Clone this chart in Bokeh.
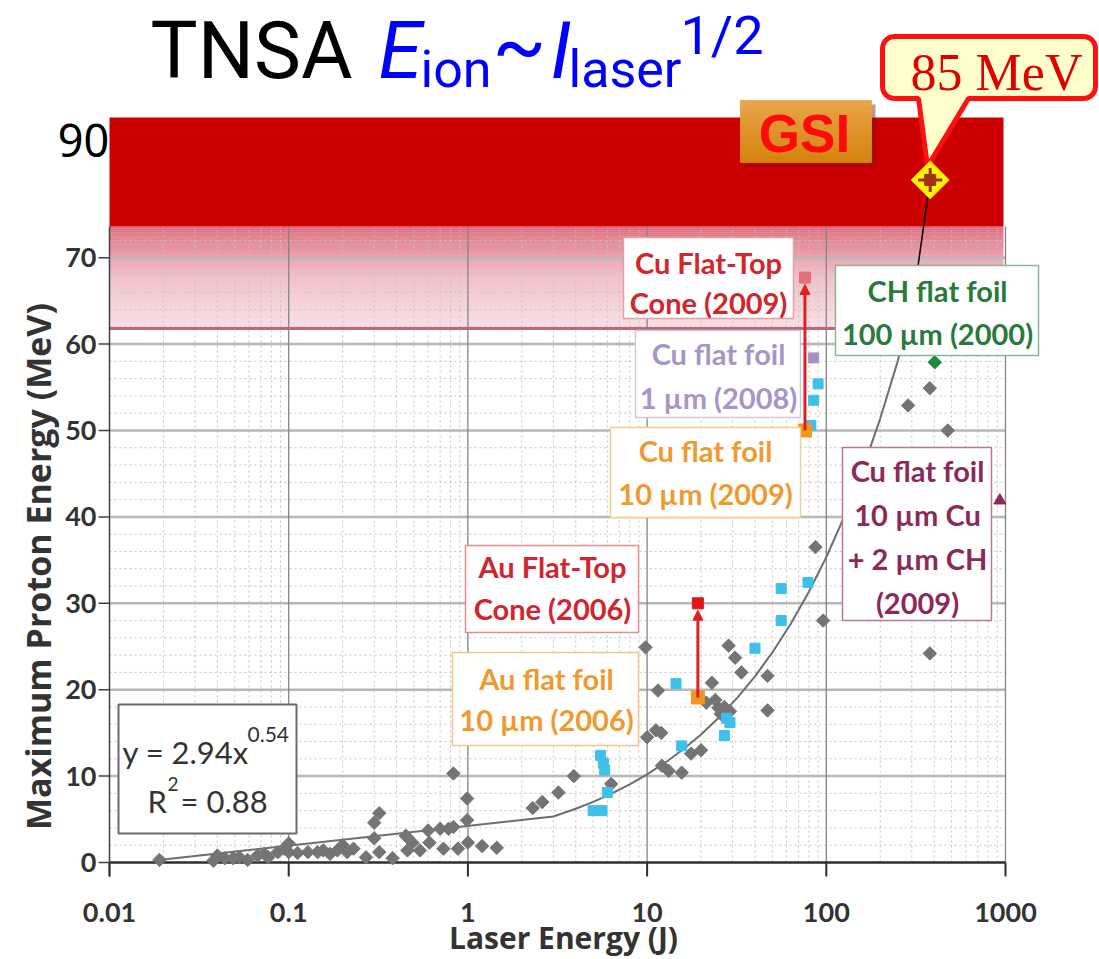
import numpy as np
from bokeh.plotting import figure
from bokeh.models import Range1d, Arrow, NormalHead
from bokeh.core.properties import value
from bokeh.embed import file_html
from bokeh.resources import INLINE

# ---------------- data ----------------
gray_energy = [0.019, 0.038, 0.040, 0.044, 0.049, 0.053, 0.059, 0.067, 0.073, 0.077, 0.087, 0.094,
               0.10, 0.10, 0.112, 0.128, 0.145, 0.156, 0.17, 0.187, 0.20, 0.212, 0.23, 0.27, 0.30,
               0.32, 0.30, 0.32, 0.38, 0.45, 0.46, 0.49, 0.54, 0.60, 0.61, 0.70, 0.73, 0.78, 0.83,
               0.83, 0.88, 0.99, 0.99, 1.0, 1.2, 1.45, 2.3, 2.6, 3.2, 3.9, 6.3, 9.8, 10.0, 11.2,
               12.0, 11.5, 12.1, 13.2, 15.6, 17.6, 20.0, 23.0, 21.4, 24.0, 25.0, 27.0, 25.8, 29.0,
               28.5, 31.0, 33.6, 47.0, 47.0, 87.0, 96.0, 286.0, 378.0, 476.0, 378.0]
gray_proton = [0.3, 0.2, 0.8, 0.5, 0.5, 0.6, 0.3, 0.8, 1.0, 0.6, 1.2, 1.6,
               2.2, 1.2, 1.1, 1.2, 1.2, 1.4, 1.0, 1.4, 2.0, 1.2, 1.6, 0.6, 4.6,
               5.7, 2.8, 1.2, 0.5, 3.1, 1.4, 2.3, 1.4, 3.7, 2.3, 3.9, 1.6, 3.9, 10.3,
               4.1, 1.6, 7.4, 4.9, 2.3, 1.9, 1.7, 6.3, 7.0, 8.1, 10.0, 9.1, 24.9, 14.5, 15.3,
               15.0, 19.9, 11.2, 10.6, 10.4, 12.6, 13.0, 20.8, 18.5, 18.8, 17.9, 18.0, 17.2, 17.5,
               25.1, 23.7, 22.0, 21.6, 17.6, 36.5, 28.0, 52.9, 54.9, 50.0, 24.2]
cyan_energy = [5.0, 5.6, 5.5, 5.7, 5.8, 6.0, 14.5, 15.6, 27.8, 29.0, 27.0, 40.0, 56.0, 56.0, 79.0,
               82.0, 85.0, 90.0]
cyan_proton = [6.0, 6.0, 12.4, 11.5, 10.7, 8.1, 20.7, 13.5, 16.7, 16.2, 14.7, 24.8, 28.0, 31.7, 32.4,
               50.6, 53.5, 55.4]
au_flat_energy = [19.2]
au_flat_proton = [19.1]
au_cone_energy = [19.2]
au_cone_proton = [30.0]
cu10_energy = [76.0]
cu10_proton = [50.0]
cu_cone_energy = [76.0]
cu_cone_proton = [67.7]
cu1_energy = [85.0]
cu1_proton = [58.4]
ch_energy = [403.0]
ch_proton = [57.9]
cuch_energy = [930.0]
cuch_proton = [41.9]
gsi_energy = [380.0]
gsi_proton = [79.0]
fit_a = 2.94
fit_b = 0.54
fit_energy = [0.02, 3, 4, 5, 6, 8, 10, 13, 16, 20, 25, 32, 40, 50, 63, 80, 100, 125, 160, 200, 250, 300]
x_ticks = [0.01, 0.1, 1, 10, 100, 1000]
y_ticks = [0, 10, 20, 30, 40, 50, 60, 70]

# ---------------- pixel helpers (reference image coordinates) ----------------
X0, DEC = 109.0, 179.2     # image x of 0.01 J, pixels per decade
Y0, PPU = 862.0, 8.64      # image y of 0 MeV, pixels per MeV


def px2x(px):
    return 10 ** ((px - X0) / DEC - 2)


def py2y(py):
    return (Y0 - py) / PPU


def x2px(x):
    return X0 + (np.log10(x) + 2) * DEC


W, H = 1099, 959
p = figure(width=W, height=H, output_backend="svg", toolbar_location=None,
           x_axis_type="log",
           x_range=Range1d(px2x(0), px2x(W)), y_range=Range1d(py2y(H), py2y(0)),
           min_border_left=0, min_border_right=0, min_border_top=0, min_border_bottom=0)
p.outline_line_color = None
p.background_fill_color = "white"
p.border_fill_color = "white"
p.xgrid.grid_line_color = None
p.ygrid.grid_line_color = None
p.xaxis.visible = False
p.yaxis.visible = False

TOPV = py2y(226)
XR = 1000
XL = 0.01

FONT = value("Lato")


def txt(cx, cy, s, color, size="29px", style="bold", font=FONT, align="center", baseline="middle", angle=0.0):
    p.text(x=[px2x(cx)], y=[py2y(cy)], text=[s], text_color=color, text_font=font, angle=angle,
           text_font_size=size, text_font_style=style, text_align=align, text_baseline=baseline)


# fade region under red band
n_strips = 50
edges = np.linspace(py2y(328), TOPV, n_strips + 1)
for i in range(n_strips):
    mid_px = Y0 - 0.5 * (edges[i] + edges[i + 1]) * PPU
    a = 0.60 * np.exp(-(mid_px - 226) / 52.0) + 0.05
    p.quad(left=XL, right=px2x(1003), bottom=edges[i], top=edges[i + 1],
           fill_color="#C8102E", fill_alpha=min(a, 0.75), line_color=None)

# minor grid
minor_x = [k * 10.0 ** n for n in range(-2, 3) for k in range(2, 10)]
p.segment(x0=minor_x, y0=0, x1=minor_x, y1=TOPV, line_color="#c4c4c4", line_width=1, line_dash="2 3")
minor_y = [v for v in range(2, 74, 2) if v % 10 != 0]
p.segment(x0=XL, y0=minor_y, x1=XR, y1=minor_y, line_color="#c4c4c4", line_width=1, line_dash="2 3")
# major grid
p.segment(x0=XL, y0=y_ticks[1:], x1=XR, y1=y_ticks[1:], line_color="#b8b8b8", line_width=2.5)
p.segment(x0=x_ticks[1:], y0=0, x1=x_ticks[1:], y1=TOPV, line_color="#858585", line_width=1.3)
# pink boundary line
p.segment(x0=XL, y0=py2y(328), x1=px2x(1003), y1=py2y(328), line_color="#b86a76", line_width=3)

# axes (drawn by hand)
p.segment(x0=XL, y0=0, x1=XR, y1=0, line_color="#2e2e2e", line_width=2.5)
p.segment(x0=XL, y0=py2y(876), x1=XL, y1=TOPV, line_color="#404040", line_width=1.5)
p.segment(x0=x_ticks, y0=0, x1=x_ticks, y1=py2y(876), line_color="#2e2e2e", line_width=2)
p.segment(x0=px2x(98), y0=y_ticks, x1=XL, y1=y_ticks, line_color="#404040", line_width=1.5)
for t in x_ticks:
    txt(x2px(t), 912, f"{t:g}", "#333333", size="27px")
for t in y_ticks:
    txt(96, Y0 - t * PPU, f"{t:g}", "#333333", size="27px", align="right")
txt(563, 937, "Laser Energy (J)", "#333333", size="30px", font=value("Open Sans"))
txt(37, 566, "Maximum Proton Energy (MeV)", "#333333", size="34px", font=value("Open Sans"), angle=np.pi / 2)

# solid red band
p.quad(left=XL, right=px2x(1003), bottom=TOPV, top=py2y(117), fill_color="#CC0000", line_color=None)

# fit line
fit_proton = [fit_a * e ** fit_b for e in fit_energy]
p.line(fit_energy, fit_proton, line_color="#6e6e6e", line_width=2)
p.line([fit_energy[-1], gsi_energy[0]], [fit_proton[-1], gsi_proton[0]], line_color="black", line_width=1.5)

# data points
p.scatter(gray_energy, gray_proton, marker="square", angle=np.pi / 4, size=9.5,
          fill_color="#747474", line_color="#747474")
p.scatter(cyan_energy, cyan_proton, marker="square", size=10, fill_color="#3EC0EA", line_color="#3EC0EA")
p.scatter(au_flat_energy, au_flat_proton, marker="square", size=13, fill_color="#F3961E", line_color="#F3961E")
p.scatter(au_cone_energy, au_cone_proton, marker="square", size=11, fill_color="#E01515", line_color="#E01515")
p.scatter(cu10_energy, cu10_proton, marker="square", size=13, fill_color="#F5961C", line_color="#F5961C")
p.scatter(cu_cone_energy, cu_cone_proton, marker="square", size=11, fill_color="#E0707A", line_color="#E0707A")
p.scatter(cu1_energy, cu1_proton, marker="square", size=10, fill_color="#A890C6", line_color="#A890C6")
p.scatter(ch_energy, ch_proton, marker="square", angle=np.pi / 4, size=9.5, fill_color="#1E8A3C", line_color="#1E8A3C")
p.scatter(cuch_energy, cuch_proton, marker="triangle", size=12, fill_color="#8B2A5C", line_color="#8B2A5C")

# arrows
p.add_layout(Arrow(end=NormalHead(size=10, fill_color="#E02020", line_color="#E02020"),
                   x_start=au_flat_energy[0], y_start=au_flat_proton[0],
                   x_end=au_cone_energy[0], y_end=au_cone_proton[0] - 0.8,
                   line_color="#E02020", line_width=3))
p.add_layout(Arrow(end=NormalHead(size=10, fill_color="#E02020", line_color="#E02020"),
                   x_start=cu10_energy[0], y_start=cu10_proton[0],
                   x_end=cu_cone_energy[0], y_end=cu_cone_proton[0] - 0.8,
                   line_color="#E02020", line_width=3))


def box(l, r, t, b, color, width=1.5):
    p.quad(left=px2x(l), right=px2x(r), top=py2y(t), bottom=py2y(b),
           fill_color="white", line_color=color, line_width=width)


# annotation boxes
box(465, 638, 545, 632, "#E39090")
txt(552, 566, "Au Flat-Top", "#D0262E")
txt(552, 608, "Cone (2006)", "#D0262E")

box(452, 638, 652, 745, "#F3C58A")
txt(546, 678, "Au flat foil", "#EE9A30")
txt(546, 719, "10 µm (2006)", "#EE9A30")

box(623, 793, 237, 318, "#E3A0A0")
txt(708, 262, "Cu Flat-Top", "#D0262E")
txt(708, 302, "Cone (2009)", "#D0262E")

box(635, 800, 330, 417, "#CFC6E3")
txt(718, 353, "Cu flat foil", "#A795C6")
txt(718, 397, "1 µm (2008)", "#A795C6")

box(610, 800, 427, 517, "#F5CB90")
txt(705, 450, "Cu flat foil", "#EE9A30")
txt(705, 493, "10 µm (2009)", "#EE9A30")

box(835, 1038, 265, 355, "#86B896")
txt(937, 290, "CH flat foil", "#2A7A3E")
txt(937, 333, "100 µm (2000)", "#2A7A3E")

box(842, 991, 447, 620, "#B87898")
txt(917, 470, "Cu flat foil", "#8A2A5A")
txt(917, 514, "10 µm Cu", "#8A2A5A")
txt(917, 558, "+ 2 µm CH", "#8A2A5A")
txt(917, 602, "(2009)", "#8A2A5A")

box(118, 296, 704, 833, "#6a6a6a", width=2)
txt(122, 751, "y = 2.94x", "#333333", size="31px", style="normal", align="left")
txt(247, 734, "0.54", "#333333", size="21px", style="normal", align="left")
txt(147, 800, "R", "#333333", size="31px", style="normal", align="left")
txt(167, 783, "2", "#333333", size="19px", style="normal", align="left")
txt(180, 800, " = 0.88", "#333333", size="31px", style="normal", align="left")

# GSI badge
p.quad(left=px2x(744), right=px2x(875), top=py2y(104), bottom=py2y(166), fill_color="#7a1800",
       fill_alpha=0.45, line_color=None)
g_edges = np.linspace(100, 162, 11)
for i in range(10):
    t = i / 9.0
    r = int(0xE8 + (0xD6 - 0xE8) * t)
    g = int(0xA4 + (0x86 - 0xA4) * t)
    bcol = int(0x48 + (0x10 - 0x48) * t)
    col = "#%02X%02X%02X" % (r, g, bcol)
    p.quad(left=px2x(740), right=px2x(871), top=py2y(g_edges[i]), bottom=py2y(g_edges[i + 1]),
           fill_color=col, line_color=col, line_width=0.8)
txt(804, 133, "GSI", "#FF0A0A", size="53px", style="bold", font=value("Liberation Sans"))

# 85 MeV callout
L, R, T, B, rr = 882, 1095, 36, 98, 12


def arc(cx, cy, a0, a1, n=7):
    angs = np.radians(np.linspace(a0, a1, n))
    return [(cx + rr * np.cos(a), cy - rr * np.sin(a)) for a in angs]


pts = []
pts += arc(R - rr, T + rr, 90, 0)
pts += arc(R - rr, B - rr, 0, -90)
pts += [(968, B), (927, 166), (918, B)]
pts += arc(L + rr, B - rr, -90, -180)
pts += arc(L + rr, T + rr, 180, 90)
p.patch([px2x(a) for a, _ in pts], [py2y(b) for _, b in pts], fill_color="#FFFFCC",
        line_color="#FF1010", line_width=5)
txt(996, 72, "85 MeV", "#E00000", size="52px", style="normal", font=value("Liberation Serif"))

# GSI point
p.scatter(gsi_energy, gsi_proton, marker="square", angle=np.pi / 4, size=27, fill_color="#FFF200",
          line_color="#FFD000", line_width=1)
p.scatter(gsi_energy, gsi_proton, marker="cross", size=24, line_color="#A0301A", line_width=3)
p.scatter(gsi_energy, gsi_proton, marker="square", size=11, fill_color="#A0301A", line_color="#A0301A")

# title
TF = value("Roboto")
txt(150, 50, "TNSA", "black", size="79px", style="normal", font=TF, align="left")
txt(378, 50, "E", "#0000FF", size="79px", style="italic", font=TF, align="left")
txt(420, 69, "ion", "#0000FF", size="52px", style="normal", font=TF, align="left")
txt(492, 45, "~", "#0000FF", size="79px", style="normal", font=TF, align="left")
txt(550, 50, "I", "#0000FF", size="79px", style="italic", font=TF, align="left")
txt(568, 69, "laser", "#0000FF", size="52px", style="normal", font=TF, align="left")
txt(680, 35, "1/2", "#0000FF", size="54px", style="normal", font=TF, align="left")

# "90" at the left of the band
txt(83, 140, "90", "black", size="45px", style="normal", font=value("Noto Sans"))

open("out.html", "w").write(file_html(p, INLINE))
